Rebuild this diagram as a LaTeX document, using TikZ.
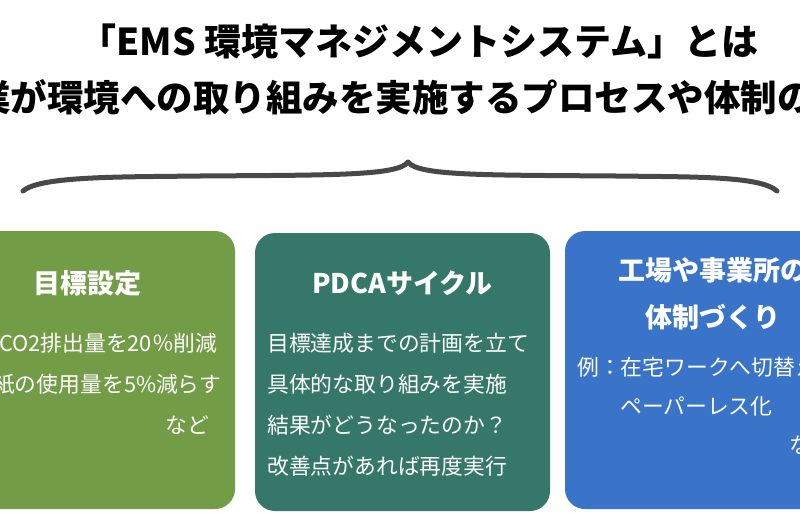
\documentclass[tikz,border=0pt]{standalone}
\usepackage{fontspec}
\newfontfamily\jp{Noto Sans CJK JP}
\definecolor{boxgreen}{HTML}{739C47}
\definecolor{boxteal}{HTML}{35786A}
\definecolor{boxblue}{HTML}{3A74C8}
\definecolor{bracegray}{HTML}{484848}
\begin{document}
\begin{tikzpicture}[x=1pt,y=-1pt,
  titletext/.style={inner sep=0pt,font=\jp\bfseries\fontsize{37}{40}\selectfont,text=black},
  cardbox/.style={rounded corners=20pt,draw=none},
  cardtitle/.style={inner sep=0pt,font=\jp\bfseries\fontsize{27}{30}\selectfont,text=white},
  cardtext/.style={inner sep=0pt,font=\jp\fontsize{21.8}{24}\selectfont,text=white},
  bracestyle/.style={draw=bracegray,line width=5pt,line cap=round,line join=round}]
\useasboundingbox (0,0) rectangle (800,530);
\clip (0,0) rectangle (800,530);
\fill[white] (0,0) rectangle (800,530);

\node[titletext] (t1) at (419,42) {「EMS 環境マネジメントシステム」とは};
\node[titletext,font=\jp\bfseries\fontsize{36.5}{40}\selectfont] (t2) at (394,97) {業が環境への取り組みを実施するプロセスや体制の};

\draw[bracestyle] (23,191) .. controls (40,176) and (120,177) .. (200,176)
  .. controls (330,175) and (398,176) .. (408,162)
  .. controls (418,176) and (486,175) .. (616,176)
  .. controls (696,177) and (760,176) .. (777,191);

\fill[cardbox,boxgreen] (-60,231) rectangle (235,509);
\fill[cardbox,boxteal] (255,233) rectangle (550,511);
\fill[cardbox,boxblue] (565,231) rectangle (860,509);

\node[cardtitle] (g0) at (87,283) {目標設定};
\node[cardtext,anchor=west] (g1) at (-1,343) {CO2排出量を20％削減};
\node[cardtext,anchor=west] (g2) at (-7,384) {紙の使用量を5\%減らす};
\node[cardtext,anchor=east] (g3) at (209,425) {など};

\node[cardtitle] (p0) at (402.5,283) {PDCAサイクル};
\node[cardtext,anchor=west] (p1) at (267,343) {目標達成までの計画を立て};
\node[cardtext,anchor=west] (p2) at (267,384) {具体的な取り組みを実施};
\node[cardtext,anchor=west] (p3) at (267,425) {結果がどうなったのか？};
\node[cardtext,anchor=west] (p4) at (267,466) {改善点があれば再度実行};

\node[cardtitle] (b0) at (712.5,270) {工場や事業所の};
\node[cardtitle] (b1) at (712.5,317) {体制づくり};
\node[cardtext,anchor=west] (b2) at (577,367) {例：在宅ワークへ切替え};
\node[cardtext,anchor=west] (b3) at (620,406) {ペーパーレス化};
\node[cardtext,anchor=east] (b4) at (833,445) {など};
\end{tikzpicture}
\end{document}
